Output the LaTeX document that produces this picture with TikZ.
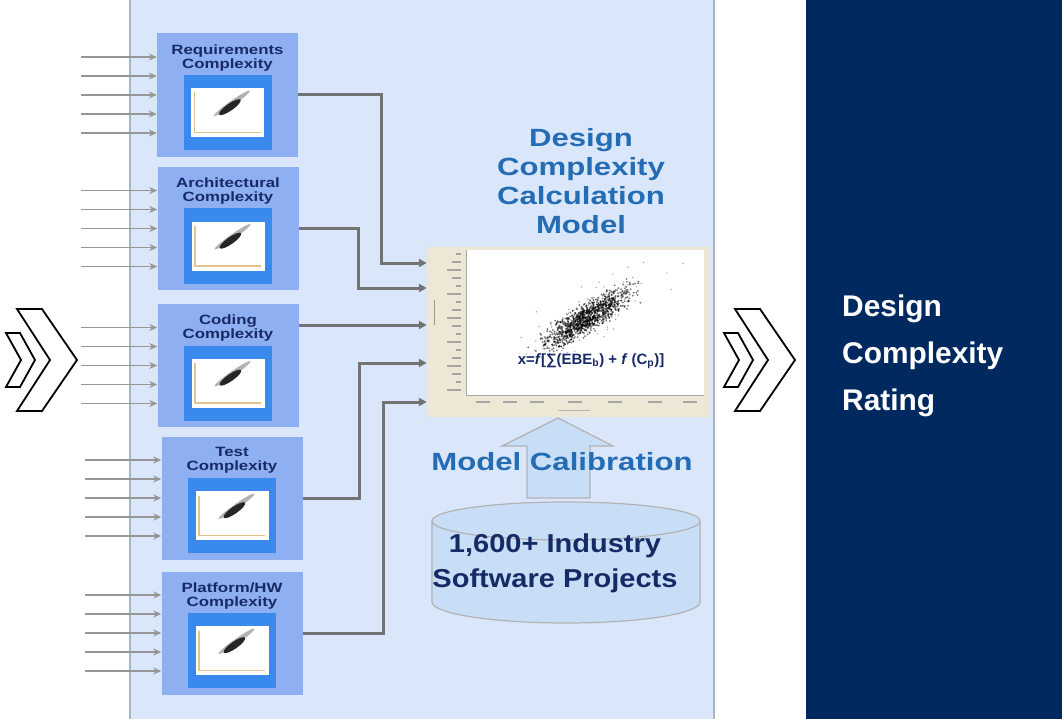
\documentclass[tikz,border=0pt]{standalone}
\usepackage{fontspec}
\setmainfont{Liberation Sans}
\newfontfamily\widesf[FakeStretch=1.25]{Liberation Sans}
\newfontfamily\midsf[FakeStretch=1.12]{Liberation Sans}
\usetikzlibrary{arrows.meta,calc}

\definecolor{panelblue}{RGB}{218,231,251}
\definecolor{panelline}{RGB}{170,180,196}
\definecolor{boxblue}{RGB}{143,175,243}
\definecolor{chartblue}{RGB}{58,138,238}
\definecolor{navy}{RGB}{0,41,96}
\definecolor{titleblue}{RGB}{36,108,180}
\definecolor{textnavy}{RGB}{22,42,102}
\definecolor{plotbeige}{RGB}{237,231,214}
\definecolor{axisbeige}{RGB}{226,196,140}
\definecolor{wiregray}{RGB}{115,115,115}
\definecolor{ingray}{RGB}{150,150,150}
\definecolor{cylblue}{RGB}{200,222,247}

\tikzset{
  cbox/.style={fill=boxblue, minimum width=141bp, minimum height=123bp, inner sep=0pt},
  boxtitle/.style={anchor=north, yshift=-11bp, inner sep=0pt, align=center, text=textnavy,
    font=\widesf\bfseries\fontsize{13.5}{14}\selectfont},
  chartframe/.style={fill=chartblue, minimum width=88bp, minimum height=75bp, inner sep=0pt},
  inarrow/.style={draw=ingray, line width=1.6bp, -{Stealth[length=8bp,width=7bp]}},
  outarrow/.style={draw=wiregray, line width=3bp, -{Triangle[length=8bp,width=8bp]}},
  chev/.style={draw=black, fill=white, line width=1.8bp, line join=miter},
  chevrons/.pic={
    \draw[chev] (17,309) -- (42,309) -- (77,360) -- (42,411) -- (17,411) -- (50,360) -- cycle;
    \draw[chev] (6,333) -- (20,333) -- (35,360) -- (20,387) -- (6,387) -- (21,360) -- cycle;
  }
}

% small scatter chart inside a complexity box
\newcommand{\minichart}[1]{%
  \node[chartframe] (#1-chart) at ([yshift=-17.5bp]#1.center) {};
  \fill[white] ($(#1-chart.center)+(-36.5,-24.5)$) rectangle ++(73,49);
  \draw[axisbeige, line width=1.2bp] ($(#1-chart.center)+(-33,-20)$) -- ++(0,40) -- ++(66,0);
  \fill[black!30, rotate around={35:($(#1-chart.center)+(9,-5)$)}]
    ($(#1-chart.center)+(9,-5)$) ellipse [x radius=22, y radius=2.5];
  \fill[black!85, rotate around={35:($(#1-chart.center)+(5,-3)$)}]
    ($(#1-chart.center)+(5,-3)$) ellipse [x radius=13, y radius=3.5];
}

\begin{document}
\begin{tikzpicture}[x=1bp,y=-1bp]
  \useasboundingbox (0,0) rectangle (1062,719);

  % model panel
  \fill[panelblue] (130,0) rectangle (714,719);
  \draw[panelline, line width=2bp] (130,0) -- (130,719);
  \draw[panelline, line width=2bp] (714,0) -- (714,719);

  % rating panel
  \node[fill=navy, minimum width=256bp, minimum height=719bp, inner sep=0pt, anchor=north west] (rating) at (806,0) {};
  \node[anchor=west, align=left, text=white, inner sep=0pt,
        font=\bfseries\fontsize{30}{47}\selectfont] (ratingtext) at (842,356) {Design\\Complexity\\Rating};

  % chevrons
  \pic at (0,0) {chevrons};
  \pic at (718,0) {chevrons};

  % complexity boxes
  \node[cbox, label={[boxtitle]north:Requirements\\Complexity}] (req) at (227.5,95) {};
  \node[cbox, label={[boxtitle]north:Architectural\\Complexity}] (arch) at (228,228.5) {};
  \node[cbox, label={[boxtitle]north:Coding\\Complexity}] (code) at (228,365.5) {};
  \node[cbox, label={[boxtitle]north:Test\\Complexity}] (test) at (232,498) {};
  \node[cbox, label={[boxtitle]north:Platform/HW\\Complexity}] (plat) at (232,633) {};
  \foreach \b in {req,arch,code,test,plat} {\minichart{\b}}

  % inputs
  \foreach \b in {req,arch,code,test,plat}
    \foreach \dy [count=\k] in {-38,-19,0,19,38} {
      \coordinate (\b-in\k) at ([xshift=-76bp,yshift=-\dy bp]\b.west);
      \draw[inarrow] (\b-in\k) -- (\b-in\k -| \b.west);
    }

  % calculation model plot
  \node[fill=plotbeige, minimum width=283bp, minimum height=170bp, inner sep=0pt] (model) at (568.5,332) {};
  \fill[white] (466,250) rectangle (704,395);
  \draw[black!35, line width=0.8bp] (466,250) -- (466,395) -- (704,395);
  \foreach \yy [count=\i] in {254,262,...,390} {
    \pgfmathsetmacro{\len}{mod(\i,3)==0 ? 14 : (mod(\i,2)==0 ? 9 : 5)}
    \draw[black!35, line width=1.2bp] (461,\yy) -- ++(-\len,0);
  }
  \draw[black!40, line width=1bp] (434,300) -- (434,325);
  \foreach \xx in {476,503,530,568,608,648,683}
    \draw[black!35, line width=1.2bp] (\xx,402) -- ++(14,0);
  \draw[black!30, line width=1bp] (558,410) -- (590,410);
  \pgfmathsetseed{7}
  \foreach \i in {1,...,1100} {
    \pgfmathsetmacro{\u}{(rand+rand+rand)*24}
    \pgfmathsetmacro{\v}{(rand+rand+rand)*6}
    \fill[black, opacity=0.55] ({587+0.84*\u+0.55*\v},{318-0.55*\u+0.84*\v}) circle (1);
  }
  \foreach \i in {1,...,120} {
    \pgfmathsetmacro{\u}{(rand+rand+rand)*38}
    \pgfmathsetmacro{\v}{(rand+rand+rand)*12}
    \fill[black, opacity=0.35] ({592+0.84*\u+0.55*\v},{312-0.55*\u+0.84*\v}) circle (0.8);
  }
  \node[text=textnavy, font=\bfseries\fontsize{15}{17}\selectfont, inner sep=0pt] (formula) at (591,361)
    {x=\textit{f}[∑(EBE\textsubscript{b}) + \textit{f} (C\textsubscript{p})]};
  \node[text=titleblue, align=center, inner sep=0pt, font=\widesf\bfseries\fontsize{25}{29.3}\selectfont]
    (modeltitle) at (581,181) {Design\\Complexity\\Calculation\\Model};

  % model inputs
  \coordinate (m1) at (model.west |- 0,263);
  \coordinate (m2) at (model.west |- 0,288);
  \coordinate (m3) at (model.west |- 0,325);
  \coordinate (m4) at (model.west |- 0,363);
  \coordinate (m5) at (model.west |- 0,402);
  \draw[outarrow] (req.east) -| (381,263) -- (m1);
  \draw[outarrow] (arch.east) -| (358,288) -- (m2);
  \draw[outarrow] (code.east |- m3) -- (m3);
  \draw[outarrow] (test.east) -| (359,363) -- (m4);
  \draw[outarrow] (plat.east) -| (383,402) -- (m5);

  % calibration
  \draw[fill=cylblue, draw=black!30, line width=1.2bp] (527,498) -- (527,446) -- (502,446) -- (558,418)
    -- (613,446) -- (590,446) -- (590,498) -- cycle;
  \node[text=titleblue, inner sep=0pt, font=\widesf\bfseries\fontsize{25}{29}\selectfont] (calib) at (562,462) {Model Calibration};

  % project database
  \filldraw[fill=cylblue, draw=black!30, line width=1.2bp] (432,521) -- (432,602)
    arc[start angle=180, end angle=0, x radius=134, y radius=21] -- (700,521)
    arc[start angle=0, end angle=-180, x radius=134, y radius=19] -- cycle;
  \draw[black!30, line width=1.2bp] (700,521) arc[start angle=0, end angle=180, x radius=134, y radius=19];
  \node[text=textnavy, align=center, inner sep=0pt, font=\midsf\bfseries\fontsize{26}{35}\selectfont]
    (db) at (555,563) {1,600+ Industry\\Software Projects};
\end{tikzpicture}
\end{document}
